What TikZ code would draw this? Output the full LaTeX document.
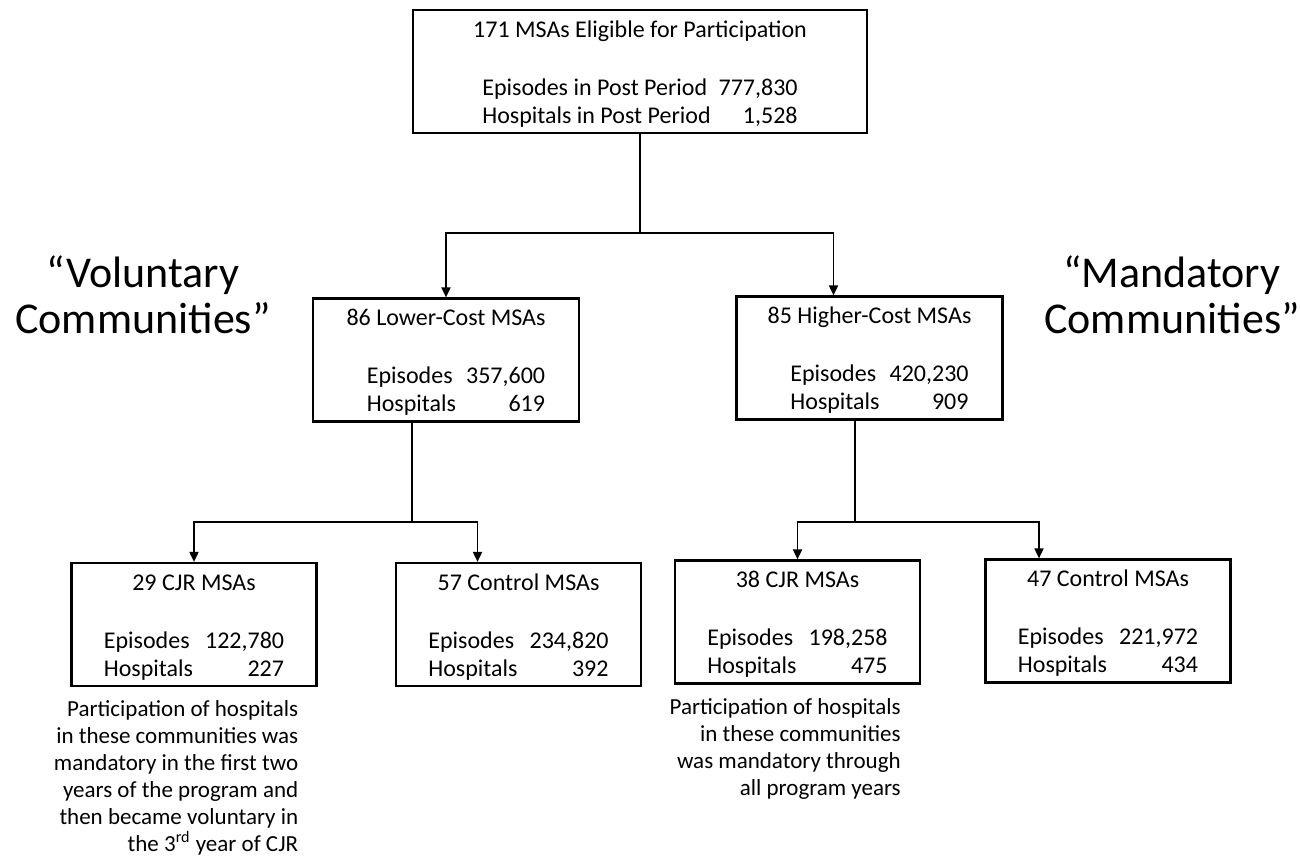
\documentclass[tikz,border=0pt]{standalone}
\usepackage{fontspec}
\setmainfont{Carlito}
\usetikzlibrary{arrows.meta, positioning, calc}

\begin{document}
\begin{tikzpicture}[
                        x = 0.5pt, y = -0.5pt,
                        font       = \fontsize{12}{14}\selectfont,
                        box/.style = {draw, line width=1.1pt, align=center, inner sep=0pt,
                                    minimum height=61.5pt},
                        wide/.style= {box, minimum width=227pt},
                        mid/.style = {box, minimum width=133pt},
                        low/.style = {box, minimum width=122.5pt},
                        comm/.style= {align=center, font=\fontsize{22}{23}\selectfont},
                        note/.style= {align=right, inner sep=0pt, font=\fontsize{11.5}{13.5}\selectfont},
                        ln/.style  = {line width=0.9pt},
                        ar/.style  = {ln, -{Triangle[length=5pt, width=4.5pt]}}
                  ]
                  \useasboundingbox (0,0) rectangle (1300,862);

                  % boxes
                  \node[wide] (all) at (640,71.5) {\rule{0pt}{13pt}171 MSAs Eligible for Participation\\[15pt]%
                        \begin{tabular}[t]{@{}l@{\hspace{4pt}}r@{}}Episodes in Post Period & 777,830\\ Hospitals in Post Period & 1,528\end{tabular}};
                  \node[mid] (lowcost) at (446,360) {\rule{0pt}{13pt}86 Lower-Cost MSAs\\[15pt]%
                        \begin{tabular}[t]{@{\hspace{10pt}}l@{\hspace{5pt}}r@{}}Episodes & 357,600\\ Hospitals & 619\end{tabular}};
                  \node[mid] (highcost) at (869.5,358) {\rule{0pt}{13pt}85 Higher-Cost MSAs\\[15pt]%
                        \begin{tabular}[t]{@{\hspace{10pt}}l@{\hspace{5pt}}r@{}}Episodes & 420,230\\ Hospitals & 909\end{tabular}};
                  \node[low] (lowcjr) at (194,624.5) {\rule{0pt}{13pt}29 CJR MSAs\\[15pt]%
                        \begin{tabular}[t]{@{}l@{\hspace{6pt}}r@{}}Episodes & 122,780\\ Hospitals & 227\end{tabular}};
                  \node[low] (lowctl) at (518.5,624.5) {\rule{0pt}{13pt}57 Control MSAs\\[15pt]%
                        \begin{tabular}[t]{@{}l@{\hspace{6pt}}r@{}}Episodes & 234,820\\ Hospitals & 392\end{tabular}};
                  \node[low] (highcjr) at (797.5,622) {\rule{0pt}{13pt}38 CJR MSAs\\[15pt]%
                        \begin{tabular}[t]{@{}l@{\hspace{6pt}}r@{}}Episodes & 198,258\\ Hospitals & 475\end{tabular}};
                  \node[low] (highctl) at (1108,621) {\rule{0pt}{13pt}47 Control MSAs\\[15pt]%
                        \begin{tabular}[t]{@{}l@{\hspace{6pt}}r@{}}Episodes & 221,972\\ Hospitals & 434\end{tabular}};

                  % side labels and notes
                  \node[comm] (vol)  at (143,295)  {“Voluntary\\Communities”};
                  \node[comm] (mand) at (1172,295) {“Mandatory\\Communities”};
                  \node[note, anchor=north east] (lownote) at ($(lowcjr.south east)+(-19,13)$)
                        {Participation of hospitals\\in these communities was\\mandatory in the first two\\years of the program and\\then became voluntary in\\the 3\textsuperscript{rd} year of CJR};
                  \node[note, anchor=north east] (highnote) at ($(highcjr.south east)+(-20,14)$)
                        {Participation of hospitals\\in these communities\\was mandatory through\\all program years};

                  % connectors
                  \coordinate (split0) at (640,233);
                  \coordinate (split1) at (412,522);
                  \coordinate (split2) at (855,522);
                  \draw[ln] (all) -- (split0);
                  \draw[ar] (split0) -| (lowcost.north);
                  \draw[ar] (split0) -| ($(highcost.north)+(-36,0)$);
                  \draw[ln] (split1 |- lowcost.south) -- (split1);
                  \draw[ar] (split1) -| (lowcjr.north);
                  \draw[ar] (split1) -| ($(lowctl.north)+(-41,0)$);
                  \draw[ln] (split2 |- highcost.south) -- (split2);
                  \draw[ar] (split2) -| (highcjr.north);
                  \draw[ar] (split2) -| ($(highctl.north)+(-69,0)$);
            \end{tikzpicture}
\end{document}
